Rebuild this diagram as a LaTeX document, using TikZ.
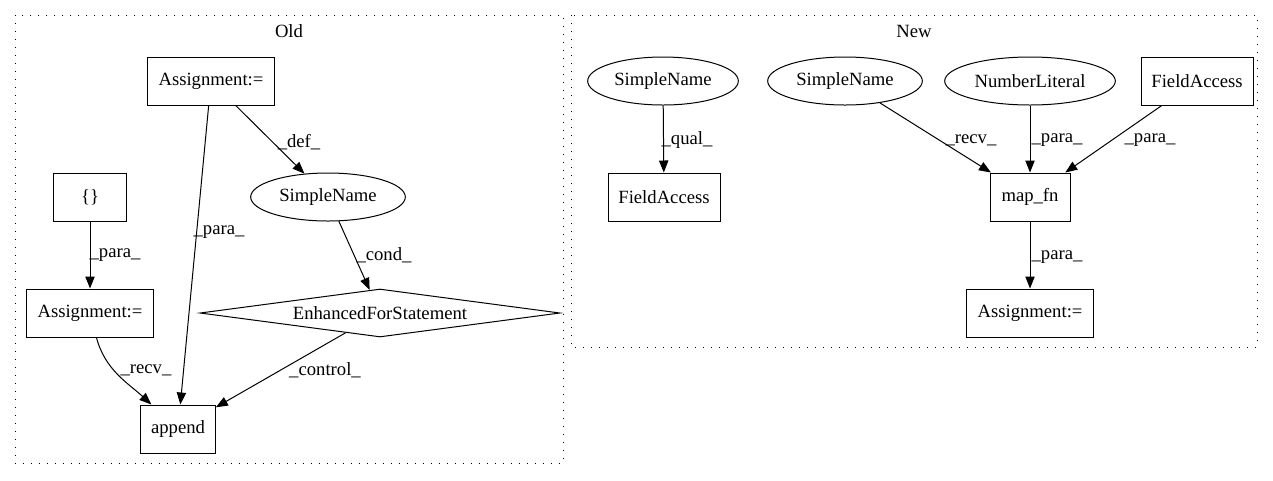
\documentclass[tikz,border=0pt]{standalone}
\usepackage{fontspec}
\setmainfont{Liberation Serif}
\usetikzlibrary{arrows.meta,positioning,shapes.geometric}

\begin{document}
\begin{tikzpicture}[x=0.75pt,y=-0.75pt,
    every node/.style={font=\fontsize{14pt}{16pt}\selectfont},
    box/.style={draw,line width=0.75pt,rectangle,minimum height=36pt,inner sep=0pt},
    oval/.style={draw,line width=0.75pt,ellipse,minimum height=36pt,inner sep=0pt},
    dia/.style={draw,line width=0.75pt,diamond,aspect=7.5,minimum width=270pt,minimum height=36pt,inner sep=0pt},
    lbl/.style={inner sep=0pt},
    arr/.style={line width=0.75pt,-{Triangle[length=9pt,width=7pt]}},
    clus/.style={line width=0.75pt,dash pattern=on 1pt off 5pt}]

      \useasboundingbox (0,0) rectangle (1273,480);

      % clusters
      \draw[clus] (15,15) rectangle (563,463);
      \draw[clus] (571,15) rectangle (1257,347);
      \node at (289,31) (Old) {Old};
      \node at (914,31) (New) {New};

      % old graph
      \node[box,minimum width=95pt] at (211,81) (O0) {Assignment:=};
      \node[box,minimum width=55pt] at (90,197) (O1) {\{\}};
      \node[oval,minimum width=116pt] at (328,197) (O2) {SimpleName};
      \node[box,minimum width=95pt] at (90,313) (O3) {Assignment:=};
      \node[dia] at (380,313) (O4) {EnhancedForStatement};
      \node[box,minimum width=56pt] at (178,429) (O5) {append};

      \draw[arr] (O0)--(O2);
      \draw[arr] (O0)--(O5);
      \draw[arr] (O1)--(O3);
      \draw[arr] (O2)--(O4);
      \draw[arr] (O3) .. controls (105,370) and (128,383) .. (O5);
      \draw[arr] (O4)--(O5);

      \node[lbl] at (299,142) (d0) {\_def\_};
      \node[lbl] at (219,232) (p0) {\_para\_};
      \node[lbl] at (115,255) (p1) {\_para\_};
      \node[lbl] at (384,255) (c0) {\_cond\_};
      \node[lbl] at (146,370) (r0) {\_recv\_};
      \node[lbl] at (325,370) (c1) {\_control\_};

      % new graph
      \node[oval,minimum width=113pt] at (663,81) (N0) {SimpleName};
      \node[box,minimum width=84pt] at (664,197) (N1) {FieldAccess};
      \node[oval,minimum width=116pt] at (845,81) (N2) {SimpleName};
      \node[oval,minimum width=128pt] at (1030,81) (N3) {NumberLiteral};
      \node[box,minimum width=84pt] at (1197,81) (N4) {FieldAccess};
      \node[box,minimum width=60pt] at (1030,197) (N5) {map\_fn};
      \node[box,minimum width=95pt] at (1030,313) (N6) {Assignment:=};

      \draw[arr] (N0)--(N1);
      \draw[arr] (N2)--(N5);
      \draw[arr] (N3)--(N5);
      \draw[arr] (N4)--(N5);
      \draw[arr] (N5)--(N6);

      \node[lbl] at (687,140) (q0) {\_qual\_};
      \node[lbl] at (971,140) (r1) {\_recv\_};
      \node[lbl] at (1057,140) (p2) {\_para\_};
      \node[lbl] at (1150,140) (p3) {\_para\_};
      \node[lbl] at (1057,257) (p4) {\_para\_};
    \end{tikzpicture}
\end{document}
